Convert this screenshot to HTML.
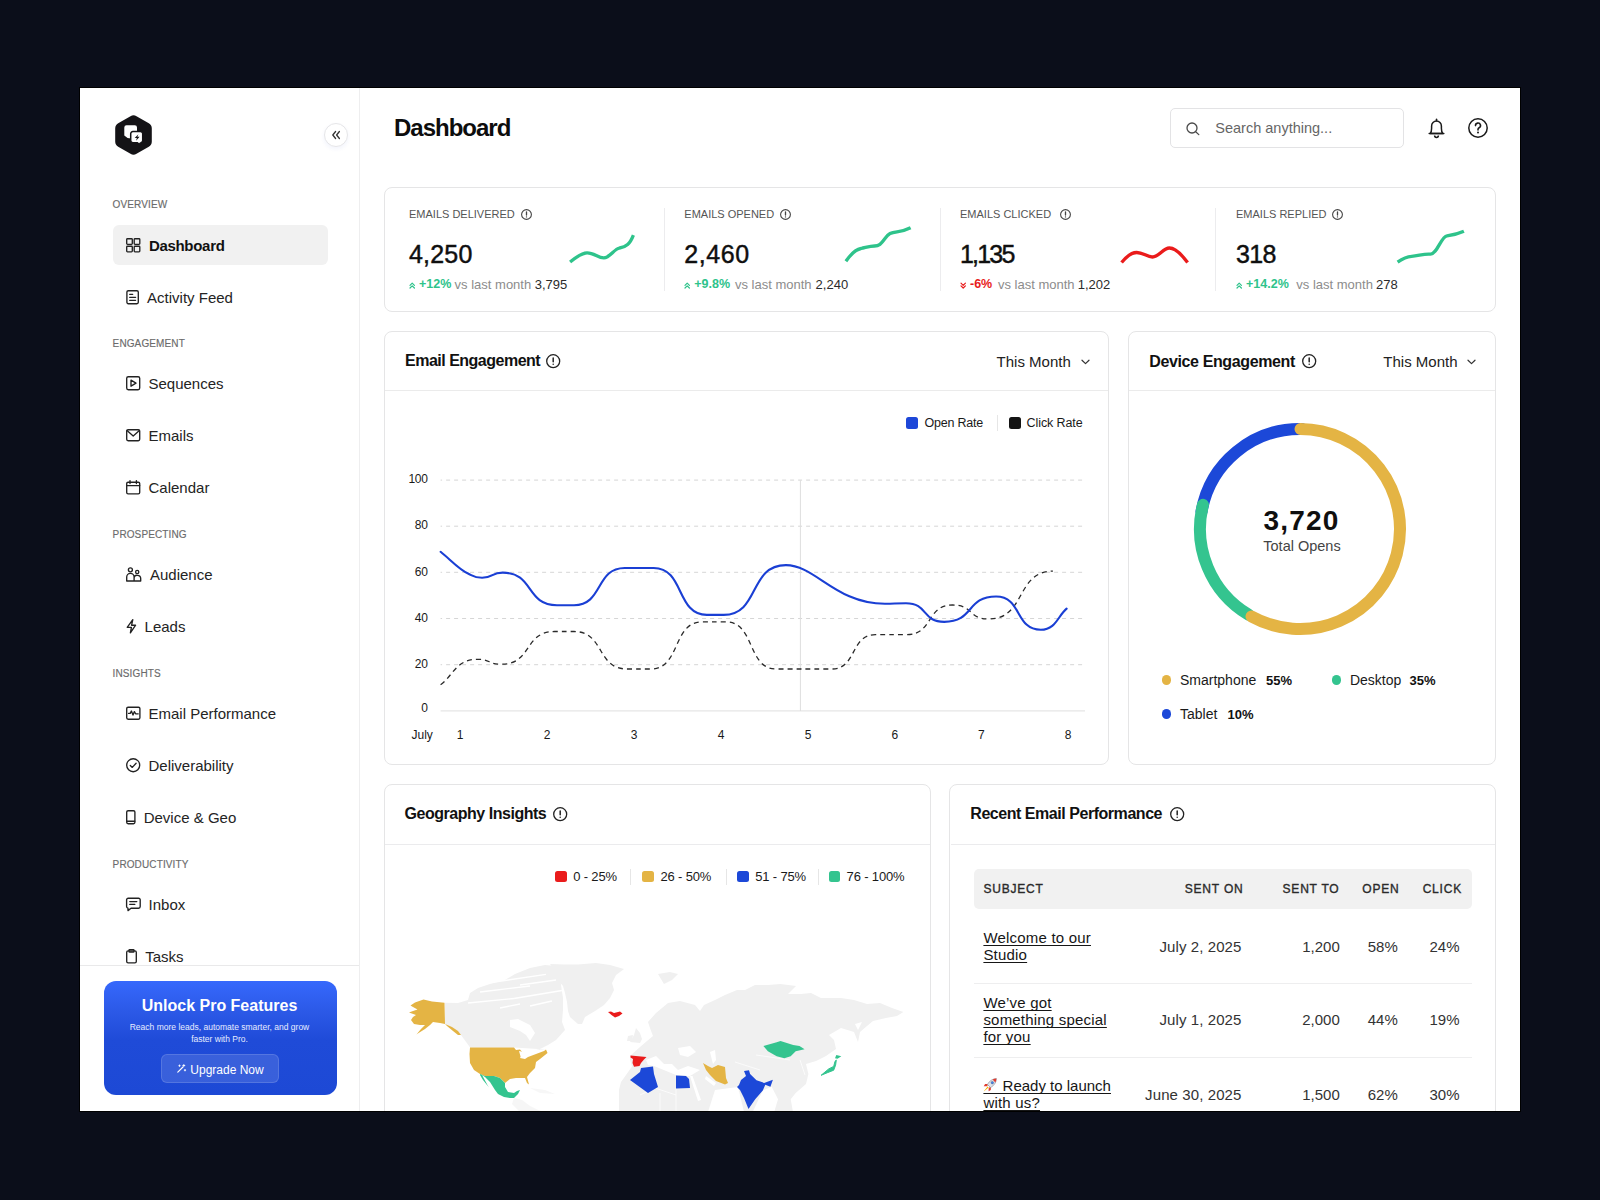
<!DOCTYPE html>
<html><head><meta charset="utf-8"><title>Dashboard</title>
<style>
*{box-sizing:border-box;margin:0;padding:0}
html,body{width:1600px;height:1200px;overflow:hidden;background:#0b0e1a}
body{position:relative;font-family:"Liberation Sans",sans-serif;-webkit-font-smoothing:antialiased}
#frame{position:absolute;left:80px;top:88px;width:1440px;height:1023px;background:#fff;overflow:hidden;box-shadow:0 0 0 1px #000}
#pg{position:absolute;left:-80px;top:-88px;width:1600px;height:1200px}
.t{position:absolute;line-height:1;white-space:nowrap}
.a{position:absolute;display:block;overflow:visible}
.b{position:absolute}
</style></head><body>
<div id="frame"><div id="pg">
<div class="b" style="left:359px;top:88px;width:1px;height:1023px;background:#eeeeef"></div>
<svg class="a" style="left:115px;top:115px;" width="37" height="40" viewBox="0 0 37 40"><path d="M15.5 1.2 Q18.5 -0.5 21.5 1.2 L33.8 8.3 Q36.8 10 36.8 13.5 L36.8 26.5 Q36.8 30 33.8 31.7 L21.5 38.8 Q18.5 40.5 15.5 38.8 L3.2 31.7 Q0.2 30 0.2 26.5 L0.2 13.5 Q0.2 10 3.2 8.3 Z" fill="#141316"/><path d="M11.5,10.3 H19.8 A2.2,2.2 0 0 1 22,12.5 V17 H16 V23.4 L12.6,23 L9.3,20.4 V12.5 A2.2,2.2 0 0 1 11.5,10.3 Z" fill="#fff"/><path d="M17.9,16.6 H25.5 A2.2,2.2 0 0 1 27.7,18.8 V25.5 A2.2,2.2 0 0 1 25.5,27.7 H25.6 L24.2,29.3 L22.4,27.7 H17.9 A2.2,2.2 0 0 1 15.7,25.5 V18.8 A2.2,2.2 0 0 1 17.9,16.6 Z" fill="#fff" stroke="#141316" stroke-width="1.5"/><path d="M23.4,19.2 L19.7,23.1 H21.9 L21,25.8 L24.6,21.8 H22.4 Z" fill="#141316"/></svg>
<div class="b" style="left:324px;top:122.5px;width:24px;height:24px;border-radius:50%;background:#fff;border:1px solid #e6e6e8;box-shadow:0 2px 4px rgba(40,60,200,0.06)"></div>
<svg class="a" style="left:331px;top:129.5px;" width="10" height="10" viewBox="0 0 10 10"><path d="M4.6 1.5 L1.8 5 L4.6 8.5 M8.4 1.5 L5.6 5 L8.4 8.5" fill="none" stroke="#333" stroke-width="1.3" stroke-linecap="round" stroke-linejoin="round"/></svg>
<div class="t" style="left:112.60px;top:200.42px;font-size:10px;font-weight:400;color:#6b6b6b;letter-spacing:0.12px;-webkit-text-stroke:0.15px #6b6b6b">OVERVIEW</div>
<div class="t" style="left:112.60px;top:339.42px;font-size:10px;font-weight:400;color:#6b6b6b;letter-spacing:0.12px;-webkit-text-stroke:0.15px #6b6b6b">ENGAGEMENT</div>
<div class="t" style="left:112.60px;top:529.82px;font-size:10px;font-weight:400;color:#6b6b6b;letter-spacing:0.12px;-webkit-text-stroke:0.15px #6b6b6b">PROSPECTING</div>
<div class="t" style="left:112.60px;top:668.91px;font-size:10px;font-weight:400;color:#6b6b6b;letter-spacing:0.12px;-webkit-text-stroke:0.15px #6b6b6b">INSIGHTS</div>
<div class="t" style="left:112.60px;top:859.91px;font-size:10px;font-weight:400;color:#6b6b6b;letter-spacing:0.12px;-webkit-text-stroke:0.15px #6b6b6b">PRODUCTIVITY</div>
<div class="b" style="left:112.5px;top:225px;width:215.5px;height:40px;border-radius:6px;background:#f1f1f1"></div>
<div class="t" style="left:148.90px;top:237.67px;font-size:15px;font-weight:700;color:#111;letter-spacing:-0.3px">Dashboard</div>
<svg class="a" style="left:126.2px;top:237.8px;" width="15" height="15" viewBox="0 0 15 15"><rect x="0.7" y="0.7" width="5.6" height="5.6" rx="0.8" fill="none" stroke="#222" stroke-width="1.35" stroke-linecap="round" stroke-linejoin="round"/><rect x="8.2" y="0.7" width="5.6" height="5.6" rx="0.8" fill="none" stroke="#222" stroke-width="1.35" stroke-linecap="round" stroke-linejoin="round"/><rect x="0.7" y="8.2" width="5.6" height="5.6" rx="0.8" fill="none" stroke="#222" stroke-width="1.35" stroke-linecap="round" stroke-linejoin="round"/><rect x="8.2" y="8.2" width="5.6" height="5.6" rx="0.8" fill="none" stroke="#222" stroke-width="1.35" stroke-linecap="round" stroke-linejoin="round"/></svg>
<div class="t" style="left:147.10px;top:289.67px;font-size:15px;font-weight:400;color:#242424;">Activity Feed</div>
<svg class="a" style="left:126.2px;top:289.8px;" width="15" height="15" viewBox="0 0 15 15"><rect x="0.9" y="0.7" width="11.4" height="13" rx="1.4" fill="none" stroke="#222" stroke-width="1.35" stroke-linecap="round" stroke-linejoin="round"/><path d="M3.7 4.3h3 M3.7 7.3h5.9 M3.7 10.3h5.9" fill="none" stroke="#222" stroke-width="1.35" stroke-linecap="round" stroke-linejoin="round"/></svg>
<div class="t" style="left:148.50px;top:376.17px;font-size:15px;font-weight:400;color:#242424;">Sequences</div>
<svg class="a" style="left:126.2px;top:376.3px;" width="15" height="15" viewBox="0 0 15 15"><rect x="0.7" y="0.7" width="13" height="13" rx="1.6" fill="none" stroke="#222" stroke-width="1.35" stroke-linecap="round" stroke-linejoin="round"/><path d="M5 4.2 L10 7.2 L5 10.2Z" fill="none" stroke="#222" stroke-width="1.35" stroke-linecap="round" stroke-linejoin="round"/></svg>
<div class="t" style="left:148.50px;top:428.17px;font-size:15px;font-weight:400;color:#242424;">Emails</div>
<svg class="a" style="left:126.2px;top:428.3px;" width="15" height="15" viewBox="0 0 15 15"><rect x="0.7" y="1.7" width="13" height="11" rx="1.4" fill="none" stroke="#222" stroke-width="1.35" stroke-linecap="round" stroke-linejoin="round"/><path d="M1 2.6 L7.2 8 L13.4 2.6" fill="none" stroke="#222" stroke-width="1.35" stroke-linecap="round" stroke-linejoin="round"/></svg>
<div class="t" style="left:148.50px;top:480.17px;font-size:15px;font-weight:400;color:#242424;">Calendar</div>
<svg class="a" style="left:126.2px;top:480.3px;" width="15" height="15" viewBox="0 0 15 15"><rect x="0.7" y="2.2" width="13" height="11.6" rx="1.4" fill="none" stroke="#222" stroke-width="1.35" stroke-linecap="round" stroke-linejoin="round"/><path d="M0.7 5.6h13 M4 0.6v3 M10.4 0.6v3" fill="none" stroke="#222" stroke-width="1.35" stroke-linecap="round" stroke-linejoin="round"/></svg>
<div class="t" style="left:150.00px;top:567.17px;font-size:15px;font-weight:400;color:#242424;">Audience</div>
<svg class="a" style="left:126.2px;top:567.3px;" width="15" height="15" viewBox="0 0 15 15"><circle cx="4.4" cy="2.8" r="2.0" fill="none" stroke="#222" stroke-width="1.35" stroke-linecap="round" stroke-linejoin="round"/><circle cx="11.2" cy="5.0" r="1.6" fill="none" stroke="#222" stroke-width="1.35" stroke-linecap="round" stroke-linejoin="round"/><path d="M0.7 14 V10 a3.7 3.7 0 0 1 7.4 0 V14 Z M8.1 14 H14.7 V11.6 a3.3 3.3 0 0 0 -3.3 -3.3 h-0.4 a2.8 2.8 0 0 0 -2.9 2.4" fill="none" stroke="#222" stroke-width="1.35" stroke-linecap="round" stroke-linejoin="round"/></svg>
<div class="t" style="left:144.60px;top:619.17px;font-size:15px;font-weight:400;color:#242424;">Leads</div>
<svg class="a" style="left:126.2px;top:619.3px;" width="15" height="15" viewBox="0 0 15 15"><path d="M6.8 0.7 L1.2 8.3 H5.4 L4.4 13.8 L9.6 6.2 H5.6Z" fill="none" stroke="#222" stroke-width="1.35" stroke-linecap="round" stroke-linejoin="round"/></svg>
<div class="t" style="left:148.50px;top:706.17px;font-size:15px;font-weight:400;color:#242424;">Email Performance</div>
<svg class="a" style="left:126.2px;top:706.3px;" width="15" height="15" viewBox="0 0 15 15"><rect x="0.7" y="1.2" width="13.2" height="12" rx="1.4" fill="none" stroke="#222" stroke-width="1.35" stroke-linecap="round" stroke-linejoin="round"/><path d="M2.6 7.4 h1.6 l1.2 -2.4 l1.6 4 l1.4 -3.4 l1.2 2.2 h2.6" fill="none" stroke="#222" stroke-width="1.35" stroke-linecap="round" stroke-linejoin="round"/></svg>
<div class="t" style="left:148.50px;top:758.17px;font-size:15px;font-weight:400;color:#242424;">Deliverability</div>
<svg class="a" style="left:126.2px;top:758.3px;" width="15" height="15" viewBox="0 0 15 15"><circle cx="7.2" cy="7.2" r="6.5" fill="none" stroke="#222" stroke-width="1.35" stroke-linecap="round" stroke-linejoin="round"/><path d="M4.3 7.4 L6.3 9.4 L10.1 5.3" fill="none" stroke="#222" stroke-width="1.35" stroke-linecap="round" stroke-linejoin="round"/></svg>
<div class="t" style="left:143.70px;top:810.17px;font-size:15px;font-weight:400;color:#242424;">Device &amp; Geo</div>
<svg class="a" style="left:126.2px;top:810.3px;" width="15" height="15" viewBox="0 0 15 15"><rect x="0.7" y="0.7" width="8.2" height="13" rx="1.4" fill="none" stroke="#222" stroke-width="1.35" stroke-linecap="round" stroke-linejoin="round"/><path d="M0.9 11.2h7.8" fill="none" stroke="#222" stroke-width="1.35" stroke-linecap="round" stroke-linejoin="round"/></svg>
<div class="t" style="left:148.60px;top:896.97px;font-size:15px;font-weight:400;color:#242424;">Inbox</div>
<svg class="a" style="left:126.2px;top:897.0999999999999px;" width="15" height="15" viewBox="0 0 15 15"><path d="M2.2 1.2 h10.4 a1.6 1.6 0 0 1 1.6 1.6 v6.8 a1.6 1.6 0 0 1 -1.6 1.6 h-7.6 l-3 2.4 v-2.4 a1.6 1.6 0 0 1 -1.4 -1.6 v-6.8 a1.6 1.6 0 0 1 1.6 -1.6z" fill="none" stroke="#222" stroke-width="1.35" stroke-linecap="round" stroke-linejoin="round"/><path d="M3.8 4.6h7 M3.8 7.4h5" fill="none" stroke="#222" stroke-width="1.35" stroke-linecap="round" stroke-linejoin="round"/></svg>
<div class="t" style="left:145.20px;top:948.87px;font-size:15px;font-weight:400;color:#242424;">Tasks</div>
<svg class="a" style="left:126.2px;top:949.0px;" width="15" height="15" viewBox="0 0 15 15"><rect x="0.7" y="1.8" width="9.6" height="12" rx="1.4" fill="none" stroke="#222" stroke-width="1.35" stroke-linecap="round" stroke-linejoin="round"/><rect x="3" y="0.6" width="5" height="2.4" rx="0.6" fill="none" stroke="#222" stroke-width="1.35" stroke-linecap="round" stroke-linejoin="round"/></svg>
<div class="b" style="left:80px;top:965px;width:279px;height:1px;background:#e9e9ea"></div>
<div class="b" style="left:103.5px;top:980.5px;width:233px;height:114.5px;border-radius:12px;background:linear-gradient(180deg,#3668fc 0%,#2b58e6 28%,#1f4bd8 52%,#1d49d5 100%)"></div>
<div class="t" style="left:109.50px;width:220px;text-align:center;top:997.98px;font-size:16px;font-weight:700;color:#fff;">Unlock Pro Features</div>
<div class="t" style="left:109.50px;width:220px;text-align:center;top:1022.85px;font-size:8.5px;font-weight:400;color:#e6ecff;">Reach more leads, automate smarter, and grow</div>
<div class="t" style="left:109.50px;width:220px;text-align:center;top:1035.45px;font-size:8.5px;font-weight:400;color:#e6ecff;">faster with Pro.</div>
<div class="b" style="left:160.5px;top:1054.4px;width:118.5px;height:28.6px;border-radius:6px;background:rgba(255,255,255,0.12);border:1px solid rgba(255,255,255,0.14)"></div>
<div class="t" style="left:190.30px;top:1063.64px;font-size:12px;font-weight:400;color:#fff;">Upgrade Now</div>
<svg class="a" style="left:177px;top:1064px;" width="9" height="9" viewBox="0 0 9 9"><path d="M0.8 8.2 L6 3" fill="none" stroke="#fff" stroke-width="1.2" stroke-linecap="round"/><path d="M6.8 0.5 v2 M5.8 1.5 h2 M2.5 1 v1.4 M1.8 1.7 h1.4 M8 5.5 v1.4 M7.3 6.2 h1.4" stroke="#fff" stroke-width="0.9" stroke-linecap="round"/></svg>
<div class="t" style="left:394.00px;top:115.88px;font-size:24px;font-weight:700;color:#0d0d0d;letter-spacing:-1px">Dashboard</div>
<div class="b" style="left:1169.5px;top:108px;width:234.5px;height:39.5px;border-radius:5px;border:1px solid #e3e3e5;background:#fff"></div>
<svg class="a" style="left:1186px;top:121.5px;" width="14" height="13" viewBox="0 0 14 13"><circle cx="6" cy="6" r="5" fill="none" stroke="#4a4a4a" stroke-width="1.3"/><path d="M9.7 9.7 L12.8 12.6" stroke="#4a4a4a" stroke-width="1.3" stroke-linecap="round"/></svg>
<div class="t" style="left:1215.30px;top:120.72px;font-size:14.5px;font-weight:400;color:#666;">Search anything...</div>
<svg class="a" style="left:1427.5px;top:117.5px;" width="17" height="21" viewBox="0 0 17 21"><path d="M2.2 15.6 C3.6 13.8 3.6 12.2 3.6 10.2 V8 a4.9 4.9 0 0 1 9.8 0 v2.2 c0 2 0 3.6 1.4 5.4z" fill="none" stroke="#1a1a1a" stroke-width="1.5" stroke-linejoin="round"/><path d="M1.2 15.6 h14.6" stroke="#1a1a1a" stroke-width="1.5" stroke-linecap="round"/><path d="M6.6 17.6 a1.9 1.9 0 0 0 3.8 0" fill="none" stroke="#1a1a1a" stroke-width="1.5"/><path d="M8.5 1.2 v1.6" stroke="#1a1a1a" stroke-width="1.5" stroke-linecap="round"/></svg>
<svg class="a" style="left:1467.5px;top:117.8px;" width="20" height="20" viewBox="0 0 20 20"><circle cx="10" cy="10" r="9.2" fill="none" stroke="#1a1a1a" stroke-width="1.5"/><path d="M7.5 7.6 a2.5 2.5 0 1 1 3.6 2.2 c-0.8 0.4 -1.1 0.9 -1.1 1.7 v0.4" fill="none" stroke="#1a1a1a" stroke-width="1.6" stroke-linecap="round"/><circle cx="10" cy="14.6" r="1" fill="#1a1a1a"/></svg>
<div class="b" style="left:384px;top:187px;width:1112px;height:125px;border-radius:8px;border:1px solid #e5e5e6;background:#fff"></div>
<div class="t" style="left:409.00px;top:208.53px;font-size:11px;font-weight:400;color:#555;">EMAILS DELIVERED</div>
<svg class="a" style="left:520.7px;top:208.5px;" width="11" height="11" viewBox="0 0 11 11"><circle cx="5.5" cy="5.5" r="4.9" fill="none" stroke="#444" stroke-width="1.1"/><path d="M5.5 2.97 v3.08" stroke="#444" stroke-width="1.3" stroke-linecap="round"/><circle cx="5.5" cy="7.92" r="0.66" fill="#444"/></svg>
<div class="t" style="left:409.00px;top:241.69px;font-size:25px;font-weight:400;color:#0f0f0f;letter-spacing:0.2px;-webkit-text-stroke:0.45px #0f0f0f">4,250</div>
<div class="t" style="left:684.30px;top:208.53px;font-size:11px;font-weight:400;color:#555;">EMAILS OPENED</div>
<svg class="a" style="left:780.1px;top:208.5px;" width="11" height="11" viewBox="0 0 11 11"><circle cx="5.5" cy="5.5" r="4.9" fill="none" stroke="#444" stroke-width="1.1"/><path d="M5.5 2.97 v3.08" stroke="#444" stroke-width="1.3" stroke-linecap="round"/><circle cx="5.5" cy="7.92" r="0.66" fill="#444"/></svg>
<div class="t" style="left:684.30px;top:241.69px;font-size:25px;font-weight:400;color:#0f0f0f;letter-spacing:0.6px;-webkit-text-stroke:0.45px #0f0f0f">2,460</div>
<div class="t" style="left:960.00px;top:208.53px;font-size:11px;font-weight:400;color:#555;">EMAILS CLICKED</div>
<svg class="a" style="left:1059.5px;top:208.5px;" width="11" height="11" viewBox="0 0 11 11"><circle cx="5.5" cy="5.5" r="4.9" fill="none" stroke="#444" stroke-width="1.1"/><path d="M5.5 2.97 v3.08" stroke="#444" stroke-width="1.3" stroke-linecap="round"/><circle cx="5.5" cy="7.92" r="0.66" fill="#444"/></svg>
<div class="t" style="left:960.00px;top:241.69px;font-size:25px;font-weight:400;color:#0f0f0f;letter-spacing:-1.8px;-webkit-text-stroke:0.45px #0f0f0f">1,135</div>
<div class="t" style="left:1236.00px;top:208.53px;font-size:11px;font-weight:400;color:#555;">EMAILS REPLIED</div>
<svg class="a" style="left:1331.8px;top:208.5px;" width="11" height="11" viewBox="0 0 11 11"><circle cx="5.5" cy="5.5" r="4.9" fill="none" stroke="#444" stroke-width="1.1"/><path d="M5.5 2.97 v3.08" stroke="#444" stroke-width="1.3" stroke-linecap="round"/><circle cx="5.5" cy="7.92" r="0.66" fill="#444"/></svg>
<div class="t" style="left:1236.00px;top:241.69px;font-size:25px;font-weight:400;color:#0f0f0f;letter-spacing:-0.7px;-webkit-text-stroke:0.45px #0f0f0f">318</div>
<svg class="a" style="left:0;top:0" width="1600" height="400"><path d="M570.1,262.1 C575,258 581,253 587,252.8 C594,252.6 598,258 603.9,257.9 C610,257.8 614,249 619.5,248 C626,247 630,244 633.4,235.1" fill="none" stroke="#2ec38b" stroke-width="3.3" stroke-linecap="butt"/></svg>
<svg class="a" style="left:0;top:0" width="1600" height="400"><path d="M845.9,261.3 C851,254 855,249.5 861,248.5 C866,247.5 870,246 874.5,246 C879,246 881,244 885,238.5 C888.5,233.5 891,232.5 897,231.8 C903,231 907,229.5 910.6,227.7" fill="none" stroke="#2ec38b" stroke-width="3.3" stroke-linecap="butt"/></svg>
<svg class="a" style="left:0;top:0" width="1600" height="400"><path d="M1121.6,262.6 C1126,257 1131,252.5 1136.7,252.5 C1143,252.5 1147,257 1152.5,257 C1159,257 1163,248 1169.4,248 C1176,248 1182,255 1187.6,262.6" fill="none" stroke="#ea1b1b" stroke-width="3.3" stroke-linecap="butt"/></svg>
<svg class="a" style="left:0;top:0" width="1600" height="400"><path d="M1397.6,262.2 C1402,259 1406,256.5 1411.6,256.3 C1418,256 1424,253.5 1430.2,254.1 C1437,254.7 1441,236.5 1447,235.8 C1454,235 1458,234 1463.9,231.3" fill="none" stroke="#2ec38b" stroke-width="3.3" stroke-linecap="butt"/></svg>
<div class="b" style="left:664.3px;top:208px;width:1px;height:83px;background:#ececee"></div>
<div class="b" style="left:939.8px;top:208px;width:1px;height:83px;background:#ececee"></div>
<div class="b" style="left:1215.3px;top:208px;width:1px;height:83px;background:#ececee"></div>
<svg class="a" style="left:408.8px;top:281.5px;" width="7" height="7" viewBox="0 0 7 7"><path d="M1 3.4 L3.2 1.2 L5.4 3.4 M1 6 L3.2 3.8 L5.4 6" fill="none" stroke="#2ec38b" stroke-width="1.2" stroke-linecap="round" stroke-linejoin="round"/></svg>
<div class="t" style="left:419.00px;top:278.49px;font-size:12.5px;font-weight:700;color:#2ec38b;">+12%</div>
<svg class="a" style="left:684.0999999999999px;top:281.5px;" width="7" height="7" viewBox="0 0 7 7"><path d="M1 3.4 L3.2 1.2 L5.4 3.4 M1 6 L3.2 3.8 L5.4 6" fill="none" stroke="#2ec38b" stroke-width="1.2" stroke-linecap="round" stroke-linejoin="round"/></svg>
<div class="t" style="left:694.30px;top:278.49px;font-size:12.5px;font-weight:700;color:#2ec38b;">+9.8%</div>
<svg class="a" style="left:959.8px;top:281.5px;" width="7" height="7" viewBox="0 0 7 7"><path d="M1 1.2 L3.2 3.4 L5.4 1.2 M1 3.8 L3.2 6 L5.4 3.8" fill="none" stroke="#e81c1c" stroke-width="1.2" stroke-linecap="round" stroke-linejoin="round"/></svg>
<div class="t" style="left:970.00px;top:278.49px;font-size:12.5px;font-weight:700;color:#e81c1c;">-6%</div>
<svg class="a" style="left:1235.8px;top:281.5px;" width="7" height="7" viewBox="0 0 7 7"><path d="M1 3.4 L3.2 1.2 L5.4 3.4 M1 6 L3.2 3.8 L5.4 6" fill="none" stroke="#2ec38b" stroke-width="1.2" stroke-linecap="round" stroke-linejoin="round"/></svg>
<div class="t" style="left:1246.00px;top:278.49px;font-size:12.5px;font-weight:700;color:#2ec38b;">+14.2%</div>
<div class="t" style="left:454.60px;top:278.25px;font-size:13px;font-weight:400;color:#8c8c8c;">vs last month</div>
<div class="t" style="left:534.75px;top:278.25px;font-size:13px;font-weight:400;color:#2b2b2b;">3,795</div>
<div class="t" style="left:735.00px;top:278.25px;font-size:13px;font-weight:400;color:#8c8c8c;">vs last month</div>
<div class="t" style="left:815.60px;top:278.25px;font-size:13px;font-weight:400;color:#2b2b2b;">2,240</div>
<div class="t" style="left:998.00px;top:278.25px;font-size:13px;font-weight:400;color:#8c8c8c;">vs last month</div>
<div class="t" style="left:1077.75px;top:278.25px;font-size:13px;font-weight:400;color:#2b2b2b;">1,202</div>
<div class="t" style="left:1296.30px;top:278.25px;font-size:13px;font-weight:400;color:#8c8c8c;">vs last month</div>
<div class="t" style="left:1376.00px;top:278.25px;font-size:13px;font-weight:400;color:#2b2b2b;">278</div>
<div class="b" style="left:384px;top:331px;width:725px;height:434px;border-radius:8px;border:1px solid #e5e5e6;background:#fff"></div>
<div class="b" style="left:385px;top:390px;width:723px;height:1px;background:#ebebeb"></div>
<div class="t" style="left:405.00px;top:353.18px;font-size:16px;font-weight:700;color:#111;letter-spacing:-0.5px">Email Engagement</div>
<svg class="a" style="left:545.9px;top:354.05px;" width="14.4" height="14.4" viewBox="0 0 14.4 14.4"><circle cx="7.2" cy="7.2" r="6.5" fill="none" stroke="#222" stroke-width="1.3"/><path d="M7.2 4.032000000000001 v3.744" stroke="#222" stroke-width="1.5" stroke-linecap="round"/><circle cx="7.2" cy="10.224" r="0.78" fill="#222"/></svg>
<div class="t" style="left:996.60px;top:354.17px;font-size:15px;font-weight:400;color:#222;">This Month</div>
<svg class="a" style="left:1080.5px;top:358.5px;" width="9" height="6" viewBox="0 0 9 6"><path d="M1 1.2 L4.5 4.6 L8 1.2" fill="none" stroke="#333" stroke-width="1.2" stroke-linecap="round" stroke-linejoin="round"/></svg>
<div class="b" style="left:906.3px;top:417.3px;width:11.5px;height:11.5px;border-radius:2.5px;background:#1d47d8"></div>
<div class="t" style="left:924.40px;top:416.89px;font-size:12.5px;font-weight:400;color:#1a1a1a;letter-spacing:-0.2px">Open Rate</div>
<div class="b" style="left:997.3px;top:415px;width:1px;height:16px;background:#e6e6e6"></div>
<div class="b" style="left:1009.2px;top:417.3px;width:11.5px;height:11.5px;border-radius:2.5px;background:#141414"></div>
<div class="t" style="left:1026.60px;top:416.89px;font-size:12.5px;font-weight:400;color:#1a1a1a;letter-spacing:-0.1px">Click Rate</div>
<svg class="a" style="left:0;top:0" width="1600" height="1200"><path d="M440.6 480.1 H1085" stroke="#d6d6d6" stroke-width="1" stroke-dasharray="4 4" stroke-dashoffset="2.5"/><path d="M440.6 526.2 H1085" stroke="#d6d6d6" stroke-width="1" stroke-dasharray="4 4" stroke-dashoffset="2.5"/><path d="M440.6 572.3 H1085" stroke="#d6d6d6" stroke-width="1" stroke-dasharray="4 4" stroke-dashoffset="2.5"/><path d="M440.6 618.5 H1085" stroke="#d6d6d6" stroke-width="1" stroke-dasharray="4 4" stroke-dashoffset="2.5"/><path d="M440.6 664.7 H1085" stroke="#d6d6d6" stroke-width="1" stroke-dasharray="4 4" stroke-dashoffset="2.5"/><path d="M440.6 710.8 H1085" stroke="#e6e6e6" stroke-width="1.3"/><path d="M800.4 480 V711" stroke="#dedede" stroke-width="1"/><path d="M440.6,684.7 C452.8,676.2 456.0,659.3 477.3,659.3 C491.3,659.3 487.5,664.2 501.5,664.2 C532.3,664.2 523.8,631.5 554.6,631.5 C565.9,631.5 562.7,631.5 574.0,631.5 C604.7,631.5 596.3,669.0 627.0,669.0 C640.9,669.0 637.1,669.0 651.0,669.0 C680.6,669.0 672.4,621.9 702.0,621.9 C715.9,621.9 712.1,621.9 726.0,621.9 C755.1,621.9 747.1,669.0 776.2,669.0 C808.4,669.0 799.6,669.0 831.8,669.0 C857.0,669.0 850.1,634.7 875.3,634.7 C893.5,634.7 888.5,634.7 906.7,634.7 C933.3,634.7 926.0,605.0 952.6,605.0 C973.7,605.0 967.8,619.0 988.9,619.0 C1026.0,619.0 1015.8,571.1 1052.9,571.1" fill="none" stroke="#2a2a2a" stroke-width="1.3" stroke-dasharray="5 4"/><path d="M440.6,551.8 C449.7,559.0 458.9,569.5 468.0,573.5 C472.7,575.5 473.9,577.7 482.1,577.7 C494.0,577.7 490.8,572.6 502.7,572.6 C534.2,572.6 525.5,605.2 557.0,605.2 C566.9,605.2 564.1,605.2 574.0,605.2 C603.4,605.2 595.3,568.0 624.7,568.0 C641.5,568.0 636.9,568.0 653.7,568.0 C684.5,568.0 676.0,614.9 706.8,614.9 C716.6,614.9 713.9,614.9 723.7,614.9 C759.8,614.9 748.6,565.1 785.9,565.1 C815.6,565.1 835.5,603.8 885.0,603.8 C895.5,603.8 893.8,603.3 906.0,603.3 C928.2,603.3 922.0,621.9 944.2,621.9 C974.3,621.9 966.0,596.5 996.1,596.5 C1022.0,596.5 1014.9,629.8 1040.8,629.8 C1055.8,629.8 1058.0,615.7 1066.6,608.6" fill="none" stroke="#1a3fd4" stroke-width="2.1" stroke-linecap="round"/></svg>
<div class="t" style="right:1172.40px;top:473.34px;font-size:12px;font-weight:400;color:#1a1a1a;letter-spacing:-0.3px">100</div>
<div class="t" style="right:1172.40px;top:519.44px;font-size:12px;font-weight:400;color:#1a1a1a;letter-spacing:-0.3px">80</div>
<div class="t" style="right:1172.40px;top:565.54px;font-size:12px;font-weight:400;color:#1a1a1a;letter-spacing:-0.3px">60</div>
<div class="t" style="right:1172.40px;top:611.64px;font-size:12px;font-weight:400;color:#1a1a1a;letter-spacing:-0.3px">40</div>
<div class="t" style="right:1172.40px;top:657.64px;font-size:12px;font-weight:400;color:#1a1a1a;letter-spacing:-0.3px">20</div>
<div class="t" style="right:1172.40px;top:702.34px;font-size:12px;font-weight:400;color:#1a1a1a;letter-spacing:-0.3px">0</div>
<div class="t" style="left:411.50px;top:728.64px;font-size:12px;font-weight:400;color:#1a1a1a;">July</div>
<div class="t" style="left:450.00px;width:20px;text-align:center;top:728.64px;font-size:12px;font-weight:400;color:#1a1a1a;">1</div>
<div class="t" style="left:537.00px;width:20px;text-align:center;top:728.64px;font-size:12px;font-weight:400;color:#1a1a1a;">2</div>
<div class="t" style="left:624.00px;width:20px;text-align:center;top:728.64px;font-size:12px;font-weight:400;color:#1a1a1a;">3</div>
<div class="t" style="left:711.00px;width:20px;text-align:center;top:728.64px;font-size:12px;font-weight:400;color:#1a1a1a;">4</div>
<div class="t" style="left:798.00px;width:20px;text-align:center;top:728.64px;font-size:12px;font-weight:400;color:#1a1a1a;">5</div>
<div class="t" style="left:884.80px;width:20px;text-align:center;top:728.64px;font-size:12px;font-weight:400;color:#1a1a1a;">6</div>
<div class="t" style="left:971.30px;width:20px;text-align:center;top:728.64px;font-size:12px;font-weight:400;color:#1a1a1a;">7</div>
<div class="t" style="left:1058.00px;width:20px;text-align:center;top:728.64px;font-size:12px;font-weight:400;color:#1a1a1a;">8</div>
<div class="b" style="left:1128px;top:331px;width:368px;height:434px;border-radius:8px;border:1px solid #e5e5e6;background:#fff"></div>
<div class="b" style="left:1129px;top:390px;width:366px;height:1px;background:#ebebeb"></div>
<div class="t" style="left:1149.30px;top:353.58px;font-size:16px;font-weight:700;color:#111;letter-spacing:-0.38px">Device Engagement</div>
<svg class="a" style="left:1302.0px;top:354.2px;" width="14.4" height="14.4" viewBox="0 0 14.4 14.4"><circle cx="7.2" cy="7.2" r="6.5" fill="none" stroke="#222" stroke-width="1.3"/><path d="M7.2 4.032000000000001 v3.744" stroke="#222" stroke-width="1.5" stroke-linecap="round"/><circle cx="7.2" cy="10.224" r="0.78" fill="#222"/></svg>
<div class="t" style="left:1383.30px;top:354.17px;font-size:15px;font-weight:400;color:#222;">This Month</div>
<svg class="a" style="left:1467px;top:358.5px;" width="9" height="6" viewBox="0 0 9 6"><path d="M1 1.2 L4.5 4.6 L8 1.2" fill="none" stroke="#333" stroke-width="1.2" stroke-linecap="round" stroke-linejoin="round"/></svg>
<svg class="a" style="left:0;top:0" width="1600" height="1200"><path d="M1201.52,511.64 A100,100 0 0 1 1301.75,429.02" fill="none" stroke="#1c48d8" stroke-width="12" stroke-linecap="round"/><path d="M1248.50,614.72 A100,100 0 0 1 1202.97,504.81" fill="none" stroke="#34c48f" stroke-width="12" stroke-linecap="round"/><path d="M1300.52,429.00 A100,100 0 1 1 1251.52,616.46" fill="none" stroke="#e4b444" stroke-width="12" stroke-linecap="round"/></svg>
<div class="t" style="left:1241.50px;width:120px;text-align:center;top:506.82px;font-size:28px;font-weight:700;color:#0f0f0f;letter-spacing:1.2px">3,720</div>
<div class="t" style="left:1242.00px;width:120px;text-align:center;top:538.92px;font-size:14.5px;font-weight:400;color:#444;">Total Opens</div>
<div class="b" style="left:1161.8px;top:675.3px;width:9.4px;height:9.4px;border-radius:50%;background:#e4b444"></div>
<div class="t" style="left:1180.00px;top:673.16px;font-size:14px;font-weight:400;color:#1a1a1a;">Smartphone</div>
<div class="t" style="left:1266.00px;top:673.65px;font-size:13px;font-weight:700;color:#111;">55%</div>
<div class="b" style="left:1331.8px;top:675.3px;width:9.4px;height:9.4px;border-radius:50%;background:#34c48f"></div>
<div class="t" style="left:1349.90px;top:673.16px;font-size:14px;font-weight:400;color:#1a1a1a;">Desktop</div>
<div class="t" style="left:1409.50px;top:673.65px;font-size:13px;font-weight:700;color:#111;">35%</div>
<div class="b" style="left:1161.8px;top:709.3px;width:9.4px;height:9.4px;border-radius:50%;background:#1c48d8"></div>
<div class="t" style="left:1180.00px;top:707.16px;font-size:14px;font-weight:400;color:#1a1a1a;">Tablet</div>
<div class="t" style="left:1227.60px;top:707.65px;font-size:13px;font-weight:700;color:#111;">10%</div>
<div class="b" style="left:384px;top:784px;width:547px;height:400px;border-radius:8px;border:1px solid #e5e5e6;background:#fff"></div>
<div class="b" style="left:385px;top:843.5px;width:545px;height:1px;background:#ebebed"></div>
<div class="t" style="left:404.50px;top:805.98px;font-size:16px;font-weight:700;color:#111;letter-spacing:-0.47px">Geography Insights</div>
<svg class="a" style="left:553.0999999999999px;top:806.8px;" width="14.4" height="14.4" viewBox="0 0 14.4 14.4"><circle cx="7.2" cy="7.2" r="6.5" fill="none" stroke="#222" stroke-width="1.3"/><path d="M7.2 4.032000000000001 v3.744" stroke="#222" stroke-width="1.5" stroke-linecap="round"/><circle cx="7.2" cy="10.224" r="0.78" fill="#222"/></svg>
<div class="b" style="left:555px;top:870.8px;width:11.5px;height:11.5px;border-radius:2.5px;background:#ea1c1c"></div>
<div class="t" style="left:573.20px;top:870.25px;font-size:13px;font-weight:400;color:#1a1a1a;letter-spacing:-0.15px">0 - 25%</div>
<div class="b" style="left:630.3px;top:868.5px;width:1px;height:16px;background:#e6e6e6"></div>
<div class="b" style="left:642.2px;top:870.8px;width:11.5px;height:11.5px;border-radius:2.5px;background:#e4b444"></div>
<div class="t" style="left:660.40px;top:870.25px;font-size:13px;font-weight:400;color:#1a1a1a;letter-spacing:-0.15px">26 - 50%</div>
<div class="b" style="left:725.5px;top:868.5px;width:1px;height:16px;background:#e6e6e6"></div>
<div class="b" style="left:737px;top:870.8px;width:11.5px;height:11.5px;border-radius:2.5px;background:#1c48d8"></div>
<div class="t" style="left:755.20px;top:870.25px;font-size:13px;font-weight:400;color:#1a1a1a;letter-spacing:-0.15px">51 - 75%</div>
<div class="b" style="left:817.5px;top:868.5px;width:1px;height:16px;background:#e6e6e6"></div>
<div class="b" style="left:828.7px;top:870.8px;width:11.5px;height:11.5px;border-radius:2.5px;background:#34c48f"></div>
<div class="t" style="left:846.60px;top:870.25px;font-size:13px;font-weight:400;color:#1a1a1a;letter-spacing:-0.15px">76 - 100%</div>
<svg class="a" style="left:0;top:0" width="1600" height="1200"><polygon points="445.0,1002.8 458.0,1003.0 468.0,1000.0 470.0,993.0 478.0,988.0 490.0,984.0 505.0,980.0 515.0,974.0 530.0,968.0 545.0,965.0 556.0,966.0 560.0,975.0 561.0,985.0 563.0,998.0 563.0,1010.0 562.0,1022.0 565.0,1030.0 556.0,1040.0 548.0,1045.0 540.0,1049.0 536.0,1050.0 547.5,1049.5 546.0,1049.5 514.0,1047.5 470.0,1047.5 469.0,1046.0 461.0,1035.0 445.0,1024.0" fill="#f0f0f0" /><polygon points="510.0,1020.0 518.0,1019.0 530.0,1025.0 535.0,1033.0 530.0,1041.0 526.0,1035.0 520.0,1031.0 510.0,1027.0" fill="#fff" /><path d="M468 1003 L514 998.5" stroke="#fff" stroke-width="1.4"/><path d="M514 998.5 L562 990.5" stroke="#fff" stroke-width="1.4"/><path d="M491 982.5 L546 974.4" stroke="#fff" stroke-width="1.4"/><path d="M480 992 L530 986" stroke="#fff" stroke-width="1.4"/><path d="M520 985 L556 980" stroke="#fff" stroke-width="1.4"/><path d="M500 1008 L520 1004" stroke="#fff" stroke-width="1.4"/><path d="M530 1006 L552 1001" stroke="#fff" stroke-width="1.4"/><polygon points="550.0,964.0 565.0,964.5 578.0,964.5 596.0,963.0 610.0,965.0 624.0,969.0 616.0,975.0 612.0,983.0 614.0,990.0 610.0,998.0 604.0,1005.0 595.0,1011.0 585.0,1017.0 582.0,1024.0 578.0,1024.0 570.0,1017.0 568.0,1011.0 567.0,1002.0 565.0,993.0 563.0,986.0 558.0,980.0 556.0,972.0" fill="#f0f0f0" /><polygon points="658.0,974.0 670.0,972.0 678.0,974.0 672.0,980.0 664.0,984.0" fill="#f0f0f0" /><polygon points="514.0,1098.0 522.0,1100.0 530.0,1106.0 538.0,1110.0 545.0,1112.0 520.0,1112.0 512.0,1104.0" fill="#f6f6f6" /><polygon points="530.0,1088.0 545.0,1090.0 555.0,1094.0 540.0,1093.0" fill="#f7f7f7" /><polygon points="636.0,1028.0 640.0,1033.0 642.0,1039.0 640.0,1043.0 630.0,1042.0 634.0,1035.0" fill="#f0f0f0" /><polygon points="628.0,1036.0 633.0,1035.0 632.0,1041.0 627.0,1041.0" fill="#f0f0f0" /><polygon points="630.0,1056.0 640.0,1047.0 647.0,1041.0 653.0,1036.0 650.0,1028.0 648.0,1022.0 656.0,1013.0 668.0,1003.0 680.0,1001.0 695.0,1005.0 700.0,1011.0 704.0,1005.0 715.0,1000.0 725.0,995.0 737.0,990.0 745.0,990.0 755.0,985.0 768.0,985.0 780.5,984.0 796.0,986.0 788.0,994.0 801.0,994.0 811.0,993.0 821.0,998.0 841.0,998.0 854.0,1000.0 867.0,1004.0 880.0,1003.0 892.0,1008.0 903.4,1012.0 897.0,1016.0 886.0,1018.0 873.0,1021.0 867.0,1026.0 860.0,1032.0 858.0,1042.0 854.0,1032.0 841.0,1028.0 829.0,1035.0 834.0,1040.0 836.0,1049.0 826.0,1056.0 816.0,1061.0 806.0,1064.0 808.4,1074.0 806.0,1084.0 795.7,1093.0 790.7,1099.3 793.0,1112.0 619.0,1112.0 619.0,1090.0 621.0,1082.0 626.0,1075.0 632.0,1066.5 630.0,1060.0" fill="#f0f0f0" /><polygon points="646.0,1060.0 656.0,1056.0 664.0,1064.0 672.0,1064.0 678.0,1070.0 688.0,1066.0 700.0,1070.0 690.0,1076.0 676.0,1075.0 654.0,1066.0 648.0,1065.0" fill="#fff" /><polygon points="678.0,1048.0 690.0,1046.0 696.0,1052.0 688.0,1057.0 680.0,1055.0" fill="#fff" /><polygon points="710.0,1052.0 715.0,1050.0 716.0,1060.0 713.0,1064.0" fill="#fff" /><polygon points="690.0,1076.0 692.5,1076.0 701.0,1100.0 698.0,1101.0" fill="#fff" /><polygon points="706.0,1076.0 716.0,1083.0 714.0,1086.0 705.0,1079.0" fill="#fff" /><polygon points="715.0,1090.0 738.0,1087.0 744.0,1112.0 708.0,1112.0" fill="#fff" /><polygon points="762.8,1090.5 771.7,1086.7 778.0,1099.3 774.2,1112.0 752.7,1112.0" fill="#fff" /><polygon points="855.0,1024.0 862.0,1022.0 858.0,1030.0" fill="#fff" /><path d="M655 1088 L676 1095" stroke="#fff" stroke-width="0.7" fill="none"/><path d="M676 1088 L676 1112" stroke="#fff" stroke-width="0.7" fill="none"/><path d="M660 1093 L660 1112" stroke="#fff" stroke-width="0.7" fill="none"/><path d="M640 1095 L655 1088" stroke="#fff" stroke-width="0.7" fill="none"/><path d="M735 1062 L760 1070" stroke="#fff" stroke-width="0.7" fill="none"/><path d="M756 1055 L790 1060" stroke="#fff" stroke-width="0.7" fill="none"/><path d="M800 1060 L805 1075" stroke="#fff" stroke-width="0.7" fill="none"/><polygon points="410.5,1005.5 415.0,1002.5 423.5,999.5 432.0,1001.5 444.5,1002.8 445.0,1024.0 440.0,1023.0 433.0,1022.0 430.0,1025.0 425.0,1029.0 417.0,1034.0 416.0,1035.0 421.0,1029.0 425.0,1025.0 420.0,1025.0 414.0,1024.0 411.0,1020.0 413.0,1017.0 416.0,1015.0 409.0,1012.5 413.0,1011.0 417.5,1009.5 413.0,1007.0" fill="#e4b444" /><polygon points="445.0,1024.0 452.0,1027.0 458.0,1031.0 461.0,1035.0 458.0,1035.0 453.0,1031.0 447.0,1026.0" fill="#e4b444" /><polygon points="470.0,1047.5 514.0,1047.5 516.0,1050.0 520.0,1049.5 523.0,1053.0 520.0,1058.0 525.0,1059.0 528.0,1057.0 536.0,1054.0 544.0,1051.0 546.0,1049.5 547.5,1053.0 540.0,1059.0 536.0,1062.0 535.0,1068.0 530.0,1073.0 527.0,1077.0 529.0,1084.5 527.0,1083.0 525.0,1078.0 516.0,1078.0 510.0,1079.0 505.0,1083.0 500.0,1078.0 494.0,1076.0 485.0,1076.0 480.0,1074.0 474.0,1070.0 470.0,1063.0 469.5,1054.0" fill="#e4b444" /><polygon points="519.0,1051.0 524.0,1052.0 525.0,1057.0 521.0,1058.0" fill="#fff" /><polygon points="480.0,1074.0 485.0,1076.0 494.0,1076.0 500.0,1078.0 505.0,1083.0 505.0,1087.0 508.0,1092.0 514.0,1093.0 517.0,1091.0 520.0,1090.0 518.0,1094.0 514.0,1098.0 510.0,1098.0 504.0,1097.0 498.0,1094.0 495.0,1090.0 490.0,1082.0 485.0,1077.0" fill="#34c48f" /><polygon points="480.0,1074.0 482.0,1075.0 488.0,1086.0 489.0,1087.5 483.0,1080.0 480.0,1075.0" fill="#34c48f" /><polygon points="608.0,1012.0 611.0,1011.5 614.0,1013.0 620.0,1011.5 622.5,1013.5 619.0,1016.0 615.0,1017.5 611.5,1015.0" fill="#ea1c1c" /><polygon points="630.5,1055.5 646.5,1057.0 644.0,1059.5 641.0,1063.0 639.5,1066.0 634.0,1066.8 632.5,1063.0 633.0,1059.0 630.5,1057.5" fill="#ea1c1c" /><polygon points="630.0,1080.0 640.0,1072.0 641.0,1068.0 653.0,1066.5 654.0,1074.0 658.0,1087.0 648.0,1093.0" fill="#1c48d8" /><polygon points="676.0,1075.5 686.0,1076.0 689.0,1079.0 690.0,1088.0 676.0,1088.5" fill="#1c48d8" /><polygon points="703.0,1063.0 708.0,1066.0 712.0,1068.0 718.0,1065.0 725.0,1067.0 726.0,1078.0 728.0,1083.0 725.0,1084.5 716.0,1081.0 710.0,1075.0 706.0,1070.0" fill="#e4b444" /><polygon points="744.0,1071.0 749.0,1070.2 750.1,1074.0 756.5,1080.3 764.1,1082.9 772.9,1079.7 770.4,1086.7 765.3,1084.8 762.8,1090.5 755.2,1099.3 748.5,1109.0 744.0,1098.0 740.0,1090.0 737.0,1087.0 739.0,1085.0 741.0,1080.0 746.0,1076.0" fill="#1c48d8" /><polygon points="763.4,1046.1 776.7,1042.3 780.5,1041.1 793.2,1044.9 799.5,1046.1 804.6,1049.3 795.7,1051.2 790.7,1056.3 784.3,1058.2 776.7,1056.3 767.9,1051.2" fill="#34c48f" /><polygon points="821.1,1075.3 828.7,1068.9 833.7,1066.4 835.0,1061.3 836.3,1060.1 835.6,1065.1 833.7,1070.2 827.4,1072.7" fill="#34c48f" stroke="#34c48f" stroke-width="1"/><polygon points="836.3,1055.0 841.3,1056.3 837.5,1058.8 835.0,1058.2" fill="#34c48f" /></svg>
<div class="b" style="left:949px;top:784px;width:547px;height:400px;border-radius:8px;border:1px solid #e5e5e6;background:#fff"></div>
<div class="b" style="left:950.5px;top:843.6px;width:544px;height:1px;background:#ebebed"></div>
<div class="t" style="left:970.30px;top:805.98px;font-size:16px;font-weight:700;color:#111;letter-spacing:-0.46px">Recent Email Performance</div>
<svg class="a" style="left:1169.7px;top:806.9px;" width="14.4" height="14.4" viewBox="0 0 14.4 14.4"><circle cx="7.2" cy="7.2" r="6.5" fill="none" stroke="#222" stroke-width="1.3"/><path d="M7.2 4.032000000000001 v3.744" stroke="#222" stroke-width="1.5" stroke-linecap="round"/><circle cx="7.2" cy="10.224" r="0.78" fill="#222"/></svg>
<div class="b" style="left:974px;top:868.5px;width:497.5px;height:40px;border-radius:5px;background:#f1f1f1"></div>
<div class="t" style="left:983.40px;top:883.14px;font-size:12px;font-weight:400;color:#2a2a2a;letter-spacing:0.8px;-webkit-text-stroke:0.35px #2a2a2a">SUBJECT</div>
<div class="t" style="right:356.50px;top:883.14px;font-size:12px;font-weight:400;color:#2a2a2a;letter-spacing:0.8px;-webkit-text-stroke:0.35px #2a2a2a">SENT ON</div>
<div class="t" style="right:260.50px;top:883.14px;font-size:12px;font-weight:400;color:#2a2a2a;letter-spacing:0.8px;-webkit-text-stroke:0.35px #2a2a2a">SENT TO</div>
<div class="t" style="right:200.50px;top:883.14px;font-size:12px;font-weight:400;color:#2a2a2a;letter-spacing:0.8px;-webkit-text-stroke:0.35px #2a2a2a">OPEN</div>
<div class="t" style="right:138.00px;top:883.14px;font-size:12px;font-weight:400;color:#2a2a2a;letter-spacing:0.8px;-webkit-text-stroke:0.35px #2a2a2a">CLICK</div>
<div class="t" style="left:983.40px;top:930.07px;font-size:15px;font-weight:400;color:#161616;letter-spacing:0.2px;text-decoration:underline;text-underline-offset:2px;text-decoration-thickness:1.2px;text-decoration-skip-ink:none">Welcome to our</div>
<div class="t" style="left:983.40px;top:947.07px;font-size:15px;font-weight:400;color:#161616;letter-spacing:0.2px;text-decoration:underline;text-underline-offset:2px;text-decoration-thickness:1.2px;text-decoration-skip-ink:none">Studio</div>
<div class="t" style="right:358.50px;top:938.57px;font-size:15px;font-weight:400;color:#333;letter-spacing:0.1px">July 2, 2025</div>
<div class="t" style="right:260.20px;top:938.57px;font-size:15px;font-weight:400;color:#333;">1,200</div>
<div class="t" style="right:202.20px;top:938.57px;font-size:15px;font-weight:400;color:#333;">58%</div>
<div class="t" style="right:140.50px;top:938.57px;font-size:15px;font-weight:400;color:#333;">24%</div>
<div class="t" style="left:983.40px;top:995.27px;font-size:15px;font-weight:400;color:#161616;letter-spacing:0.2px;text-decoration:underline;text-underline-offset:2px;text-decoration-thickness:1.2px;text-decoration-skip-ink:none">We&#8217;ve got</div>
<div class="t" style="left:983.40px;top:1012.27px;font-size:15px;font-weight:400;color:#161616;letter-spacing:0.2px;text-decoration:underline;text-underline-offset:2px;text-decoration-thickness:1.2px;text-decoration-skip-ink:none">something special</div>
<div class="t" style="left:983.40px;top:1029.27px;font-size:15px;font-weight:400;color:#161616;letter-spacing:0.2px;text-decoration:underline;text-underline-offset:2px;text-decoration-thickness:1.2px;text-decoration-skip-ink:none">for you</div>
<div class="t" style="right:358.50px;top:1012.27px;font-size:15px;font-weight:400;color:#333;letter-spacing:0.1px">July 1, 2025</div>
<div class="t" style="right:260.20px;top:1012.27px;font-size:15px;font-weight:400;color:#333;">2,000</div>
<div class="t" style="right:202.20px;top:1012.27px;font-size:15px;font-weight:400;color:#333;">44%</div>
<div class="t" style="right:140.50px;top:1012.27px;font-size:15px;font-weight:400;color:#333;">19%</div>
<div class="t" style="left:983.40px;top:1078.17px;font-size:15px;font-weight:400;color:#161616;letter-spacing:0.2px;text-decoration:underline;text-underline-offset:2px;text-decoration-thickness:1.2px;text-decoration-skip-ink:none"><span style="letter-spacing:0">&#8195;&nbsp;Ready to launch</span></div>
<div class="t" style="left:983.40px;top:1095.17px;font-size:15px;font-weight:400;color:#161616;letter-spacing:0.2px;text-decoration:underline;text-underline-offset:2px;text-decoration-thickness:1.2px;text-decoration-skip-ink:none">with us?</div>
<div class="t" style="right:358.50px;top:1086.67px;font-size:15px;font-weight:400;color:#333;letter-spacing:0.1px">June 30, 2025</div>
<div class="t" style="right:260.20px;top:1086.67px;font-size:15px;font-weight:400;color:#333;">1,500</div>
<div class="t" style="right:202.20px;top:1086.67px;font-size:15px;font-weight:400;color:#333;">62%</div>
<div class="t" style="right:140.50px;top:1086.67px;font-size:15px;font-weight:400;color:#333;">30%</div>
<svg class="a" style="left:983.4px;top:1077.8px;" width="14" height="14" viewBox="0 0 14 14"><path d="M4.6 8.6 L1 13 L2.2 11.2 L0.8 13.4 L5.6 9.6Z" fill="#f4b400"/><path d="M4.9 6 L2.1 6.1 L0.7 8.3 L4.3 8.3Z" fill="#e23b2e"/><path d="M7.9 9.1 L7.8 11.9 L5.6 13.3 L5.7 9.7Z" fill="#e23b2e"/><path d="M13.4 0.6 C9.6 0.7 6.4 2.9 4.4 6.4 L7.6 9.6 C11.1 7.6 13.3 4.4 13.4 0.6Z" fill="#dfe3ea" stroke="#6b7280" stroke-width="0.5"/><path d="M13.4 0.6 C12 0.65 10.7 1 9.6 1.6 L12.4 4.4 C13 3.3 13.35 2 13.4 0.6Z" fill="#e23b2e"/><circle cx="9.3" cy="4.7" r="1.25" fill="#3b82f6" stroke="#4b5563" stroke-width="0.4"/></svg>
<div class="b" style="left:974px;top:982.7px;width:497.5px;height:1px;background:#eeeeef"></div>
<div class="b" style="left:974px;top:1056.7px;width:497.5px;height:1px;background:#eeeeef"></div>
</div></div>
</body></html>
